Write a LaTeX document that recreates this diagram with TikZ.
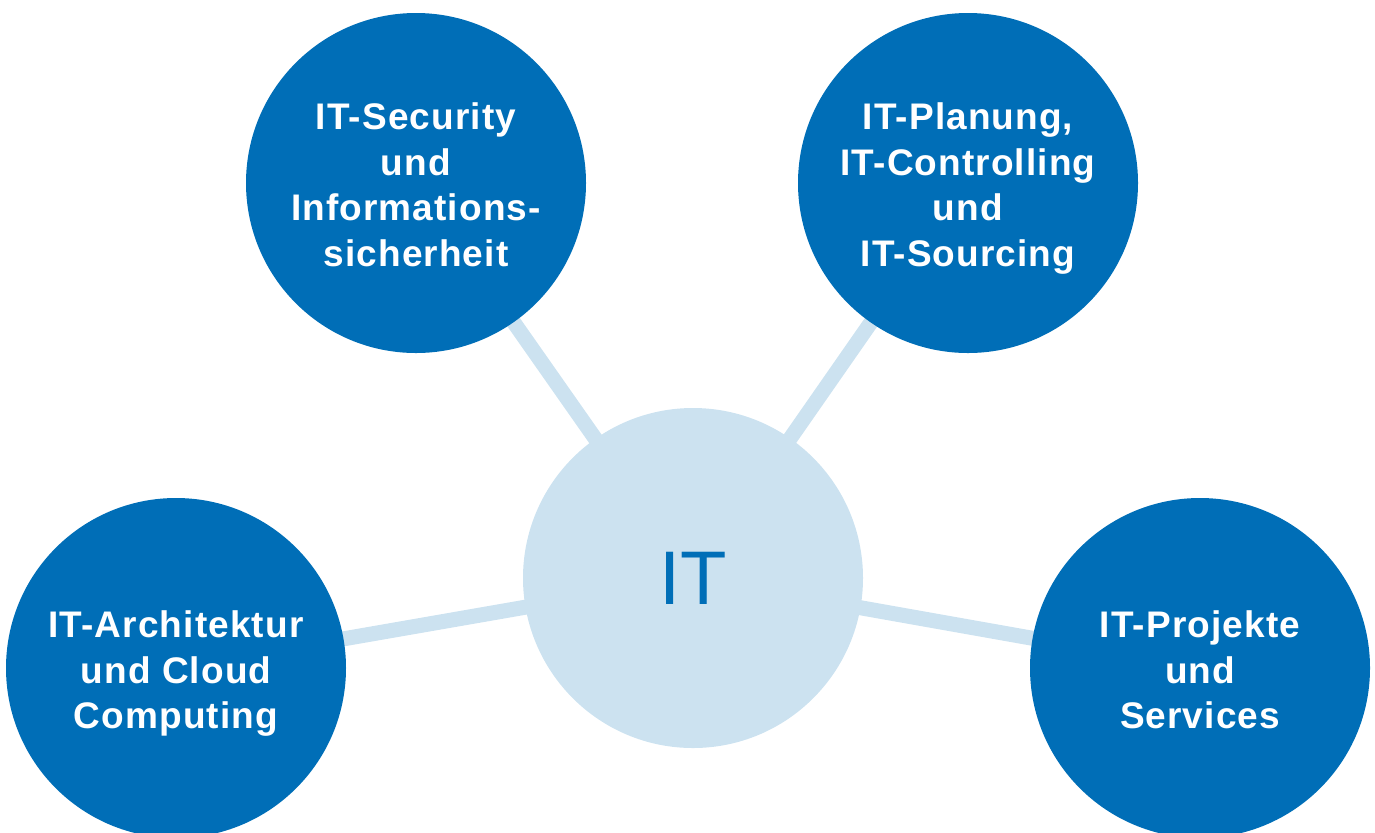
\documentclass[tikz,border=0pt]{standalone}
\usepackage{fontspec}
\setmainfont{Liberation Sans}
\newfontfamily\topicfont[LetterSpace=3]{Liberation Sans}
\usetikzlibrary{backgrounds}
\definecolor{dblue}{RGB}{0,110,183}
\definecolor{lblue}{RGB}{204,226,240}
\newcommand{\topictext}[1]{\raisebox{-3pt}[\height][\depth]{\begin{tabular}{@{}c@{}}#1\end{tabular}}}
\tikzset{
  topic/.style={circle, fill=dblue, minimum size=340*0.5pt, inner sep=0pt,
    text=white, align=center, font=\topicfont\fontsize{18.5}{22.8}\selectfont\bfseries},
  hub/.style={circle, fill=lblue, minimum size=340*0.5pt, inner sep=0pt,
    text=dblue, font=\fontsize{38}{44}\selectfont},
  link/.style={draw=lblue, line width=15*0.5pt}
}
\begin{document}
\begin{tikzpicture}[x=0.5pt, y=-0.5pt]
\clip (0,0) rectangle (1375,832);
\node[hub] (c) at (693,578) {IT};
\node[topic] (tl) at (416,183) {\topictext{IT-Security\\und\\Informations-\\sicherheit}};
\node[topic] (tr) at (968,183) {\topictext{IT-Planung,\\IT-Controlling\\und\\IT-Sourcing}};
\node[topic] (bl) at (176,668) {\topictext{IT-Architektur\\und Cloud\\Computing}};
\node[topic] (br) at (1200,668) {\topictext{IT-Projekte\\und\\Services}};
\begin{scope}[on background layer]
\draw[link] (c.center) -- (tl.center);
\draw[link] (c.center) -- (tr.center);
\draw[link] (c.center) -- (bl.center);
\draw[link] (c.center) -- (br.center);
\end{scope}
\end{tikzpicture}
\end{document}
